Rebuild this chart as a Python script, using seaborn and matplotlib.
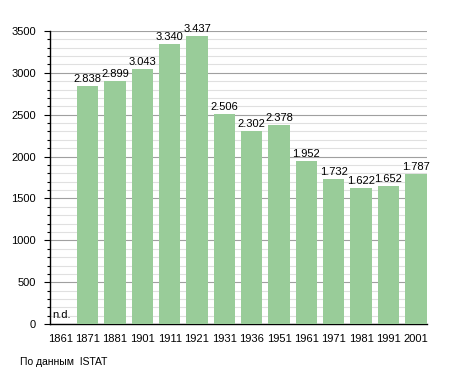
import matplotlib
matplotlib.use("Agg")
import matplotlib.pyplot as plt
import seaborn as sns
import pandas as pd
from matplotlib.ticker import MultipleLocator

years = ["1861", "1871", "1881", "1901", "1911", "1921", "1931", "1936",
         "1951", "1961", "1971", "1981", "1991", "2001"]
population = [0, 2838, 2899, 3043, 3340, 3437, 2506, 2302,
              2378, 1952, 1732, 1622, 1652, 1787]
value_labels = ["n.d.", "2.838", "2.899", "3.043", "3.340", "3.437", "2.506", "2.302",
                "2.378", "1.952", "1.732", "1.622", "1.652", "1.787"]
source = "По данным  ISTAT"

df = pd.DataFrame({"year": years, "pop": population})

sns.set_theme(style="white")
plt.rcParams["font.family"] = ["Liberation Sans", "DejaVu Sans"]
plt.rcParams["text.color"] = "black"
plt.rcParams["xtick.color"] = "black"
plt.rcParams["ytick.color"] = "black"

fig = plt.figure(figsize=(4.55, 3.73), dpi=100)
ax = fig.add_axes([0.110, 0.131, 0.828, 0.786])

sns.barplot(data=df, x="year", y="pop", color="#99cc99", saturation=1,
            width=0.78, edgecolor="none", linewidth=0, ax=ax, zorder=3)

ax.set_ylim(0, 3500)
ax.set_xlim(-0.37, 13.4)
ax.yaxis.set_major_locator(MultipleLocator(500))
ax.yaxis.set_minor_locator(MultipleLocator(100))
ax.grid(axis="y", which="major", color="#a0a0a0", linewidth=0.8, zorder=0)
ax.grid(axis="y", which="minor", color="#e0e0e0", linewidth=0.8, zorder=0)
ax.set_axisbelow(True)

for side in ["top", "right"]:
    ax.spines[side].set_visible(False)
for side in ["left", "bottom"]:
    ax.spines[side].set_color("black")
    ax.spines[side].set_linewidth(1.0)

ax.tick_params(axis="y", which="major", left=True, length=4, width=0.8,
               color="black", labelcolor="black", labelsize=8, pad=6)
ax.tick_params(axis="y", which="minor", left=True, length=2, width=0.8, color="black")
ax.tick_params(axis="x", bottom=False, labelcolor="black", labelsize=8, pad=1)
ax.set_xlabel("")
ax.set_ylabel("")

for i, (v, lab) in enumerate(zip(population, value_labels)):
    if v == 0:
        ax.text(i - 0.3, 50, lab, ha="left", va="bottom", fontsize=8, color="black")
    else:
        ax.text(i, v + 25, lab, ha="center", va="bottom", fontsize=8, color="black")

fig.text(0.044, 0.03, source, ha="left", va="center", fontsize=7.5, color="black")

fig.savefig("out.png", dpi=100)
